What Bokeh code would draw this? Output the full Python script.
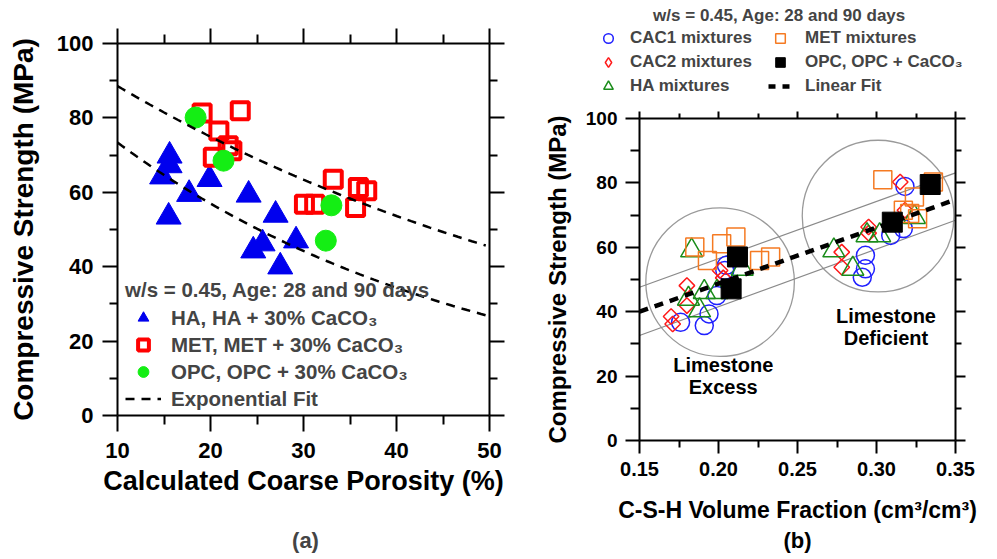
import numpy as np
from bokeh.plotting import figure
from bokeh.layouts import row, column
from bokeh.models import (Range1d, FixedTicker, LinearAxis, Legend, LegendItem,
                          Label, Title, PrintfTickFormatter, ColumnDataSource)
from bokeh.embed import file_html
from bokeh.resources import INLINE
from bokeh.core.properties import value

FONT = "Liberation Sans"

# ---------------- Panel (a) data ----------------
a_xticks = [10, 20, 30, 40, 50]
a_xminor = [15, 25, 35, 45]
a_yticks = [0, 20, 40, 60, 80, 100]
a_yminor = [10, 30, 50, 70, 90]

ha_por = [15.6, 15.6, 14.8, 15.5, 17.7, 19.9, 24.1, 27.0, 24.6, 25.6, 27.5, 29.2]
ha_fc = [69.8, 67.2, 64.2, 53.4, 59.5, 63.5, 59.3, 53.9, 44.3, 46.2, 40.0, 47.0]

met_por = [19.1, 23.2, 20.9, 21.9, 20.3, 22.3, 30.1, 31.2, 33.2, 35.6, 35.9, 36.8]
met_fc = [81.3, 81.9, 76.5, 72.5, 69.4, 71.2, 56.8, 56.8, 63.5, 55.9, 61.3, 60.4]

opc_por = [18.4, 21.4, 33.0, 32.4]
opc_fc = [80.1, 68.5, 56.5, 47.0]

# exponential fits  fc = A * exp(B * porosity)
exp_upper_A, exp_upper_B = 104.7, -0.01672
exp_lower_A, exp_lower_B = 94.5, -0.0253
fit_por_start, fit_por_end = 10.0, 49.6

# ---------------- Panel (b) data ----------------
b_xticks = [0.15, 0.20, 0.25, 0.30, 0.35]
b_xminor = [0.175, 0.225, 0.275, 0.325]
b_yticks = [0, 20, 40, 60, 80, 100]
b_yminor = [10, 30, 50, 70, 90]

cac1_csh = [0.176, 0.191, 0.194, 0.199, 0.204, 0.205, 0.291, 0.293, 0.293, 0.309, 0.317, 0.318]
cac1_fc = [36.7, 35.7, 39.3, 45.0, 52.8, 54.4, 50.7, 53.3, 57.5, 63.7, 65.8, 78.9]

cac2_csh = [0.170, 0.171, 0.180, 0.180, 0.201, 0.203, 0.278, 0.278, 0.295, 0.295, 0.315, 0.318]
cac2_fc = [38.5, 36.2, 48.1, 41.9, 52.8, 50.5, 58.5, 53.8, 66.3, 64.4, 80.3, 71.5]

ha_csh = [0.183, 0.181, 0.191, 0.188, 0.199, 0.215, 0.273, 0.285, 0.294, 0.302, 0.324]
ha_fc_b = [59.0, 44.0, 46.1, 40.4, 46.1, 53.3, 59.0, 53.3, 63.7, 63.7, 69.4]

met_csh = [0.185, 0.193, 0.202, 0.211, 0.226, 0.233, 0.304, 0.324, 0.317, 0.321, 0.326, 0.336]
met_fc_b = [60.1, 55.9, 61.1, 63.2, 55.9, 57.0, 81.0, 75.6, 71.5, 70.5, 68.9, 80.3]

opc_csh = [0.212, 0.208, 0.310, 0.334]
opc_fc_b = [57.0, 47.1, 67.8, 79.5]

lin_fit_csh = [0.15, 0.35]
lin_fit_fc = [40.0, 74.8]
band_upper_fc = [47.6, 83.1]
band_lower_fc = [32.6, 68.4]

region_csh = [0.201, 0.301]
region_fc = [49.2, 69.7]
region_radius = [0.047, 0.048]

ann_text = ["Limestone", "Excess", "Limestone", "Deficient"]
ann_csh = [0.203, 0.203, 0.306, 0.306]
ann_fc = [23.6, 16.7, 38.8, 31.7]

# styles
BLUE_A, RED_A, GREEN_A = "#0000ee", "#ff0000", "#14ee14"
BLUE_B, RED_B, GREEN_B, ORANGE_B = "#2020ff", "#ff1a1a", "#1a8c1a", "#f57a22"
GRAY = "#9a9a9a"


def style_axis(ax, ticker, label_px, major_out, minor_out, show=True):
    ax.ticker = ticker
    ax.axis_line_width = 2
    ax.axis_line_color = "black"
    ax.major_tick_line_width = 2
    ax.minor_tick_line_width = 2
    ax.major_tick_in = 0
    ax.minor_tick_in = 0
    ax.major_tick_out = major_out
    ax.minor_tick_out = minor_out
    ax.major_label_text_font = FONT
    ax.major_label_text_font_style = "bold"
    ax.axis_label_text_font = FONT
    ax.axis_label_text_font_style = "bold"
    ax.axis_label_text_color = "black"
    if show:
        ax.major_label_text_font_size = f"{label_px}px"
        ax.major_label_text_color = "black"
    else:
        ax.major_label_text_font_size = "1px"
        ax.major_label_text_color = None
        ax.major_label_standoff = 0


def blank_fig(w, h):
    f = figure(width=w, height=h, x_range=Range1d(0, 1), y_range=Range1d(0, 1),
               x_axis_type=None, y_axis_type=None, output_backend="svg",
               toolbar_location=None, min_border_left=0, min_border_right=0,
               min_border_top=0, min_border_bottom=0)
    f.outline_line_color = None
    return f


# ================= Panel (a) =================
pa = figure(width=540, height=510, x_range=Range1d(10, 50), y_range=Range1d(0, 100),
            output_backend="svg", toolbar_location=None,
            min_border_left=117, min_border_right=51, min_border_top=43, min_border_bottom=95)
pa.outline_line_color = None
pa.xgrid.visible = False
pa.ygrid.visible = False

style_axis(pa.xaxis[0], FixedTicker(ticks=a_xticks, minor_ticks=a_xminor), 22, 16, 9)
style_axis(pa.yaxis[0], FixedTicker(ticks=a_yticks, minor_ticks=a_yminor), 22, 15, 8)
pa.xaxis[0].axis_label = "Calculated Coarse Porosity (%)"
pa.xaxis[0].axis_label_text_font_size = "27px"
pa.xaxis[0].major_label_standoff = 11
pa.xaxis[0].axis_label_standoff = 5
pa.yaxis[0].axis_label = "Compressive Strength (MPa)"
pa.yaxis[0].axis_label_text_font_size = "28px"
pa.yaxis[0].major_label_standoff = 9
pa.yaxis[0].axis_label_standoff = 15

ta = LinearAxis()
style_axis(ta, FixedTicker(ticks=a_xticks, minor_ticks=a_xminor), 0, 15, 9, show=False)
pa.add_layout(ta, "above")
ra = LinearAxis()
style_axis(ra, FixedTicker(ticks=a_yticks, minor_ticks=a_yminor), 0, 15, 8, show=False)
pa.add_layout(ra, "right")

r_ha = pa.scatter(ha_por, ha_fc, marker="triangle", size=25,
                  fill_color=BLUE_A, line_color=BLUE_A)
r_met = pa.scatter(met_por, met_fc, marker="square", size=17,
                   fill_color=None, line_color=RED_A, line_width=4)
r_opc = pa.scatter(opc_por, opc_fc, marker="circle", size=21,
                   fill_color=GREEN_A, line_color=GREEN_A)

fit_x = np.linspace(fit_por_start, fit_por_end, 80)
r_fit1 = pa.line(fit_x, exp_upper_A * np.exp(exp_upper_B * fit_x), line_color="black",
                 line_width=2.5, line_dash="9 7")
r_fit2 = pa.line(fit_x, exp_lower_A * np.exp(exp_lower_B * fit_x), line_color="black",
                 line_width=2.5, line_dash="9 7")

leg_a = Legend(items=[
    LegendItem(label="HA, HA + 30% CaCO\u2083", renderers=[r_ha]),
    LegendItem(label="MET, MET + 30% CaCO\u2083", renderers=[r_met]),
    LegendItem(label="OPC, OPC + 30% CaCO\u2083", renderers=[r_opc]),
    LegendItem(label="Exponential Fit", renderers=[r_fit1]),
], location=(8, 3), title="w/s = 0.45, Age: 28 and 90 days")
leg_a.title_text_font = FONT
leg_a.title_text_font_style = "bold"
leg_a.title_text_font_size = "20.5px"
leg_a.title_standoff = 2
leg_a.label_text_font = FONT
leg_a.label_text_font_style = "bold"
leg_a.label_text_font_size = "20.5px"
leg_a.glyph_width = 36
leg_a.glyph_height = 27
leg_a.label_height = 20
leg_a.spacing = 0
leg_a.label_standoff = 10
leg_a.padding = 0
leg_a.margin = 0
leg_a.border_line_color = None
leg_a.background_fill_alpha = 0
pa.add_layout(leg_a, "center")

# caption (a) in a footer strip below panel (a)
fa = blank_fig(540, 45)
fa.add_layout(Label(x=305, y=15, x_units="screen", y_units="screen", text="(a)",
                    text_font=FONT, text_font_style="bold", text_font_size="22px",
                    text_align="center", text_baseline="middle"))

# ================= Panel (b) header (legend) =================
hb = blank_fig(455, 100)

nan = [float("nan")]
k_cac1 = hb.scatter(nan, nan, marker="circle", fill_color=None, line_color=BLUE_B, line_width=1.5)
k_cac2 = hb.scatter(nan, nan, marker="diamond", fill_color=None, line_color=RED_B, line_width=1.5)
k_ha = hb.scatter(nan, nan, marker="triangle", fill_color=None, line_color=GREEN_B, line_width=1.5)
k_met = hb.scatter(nan, nan, marker="square", fill_color=None, line_color=ORANGE_B, line_width=1.5)
k_opc = hb.scatter(nan, nan, marker="square", fill_color="black", line_color="black")
k_lin = hb.line(nan, nan, line_color="black", line_width=4.5, line_dash="7 7")


def style_leg(leg, standoff):
    leg.label_text_font = FONT
    leg.label_text_font_style = "bold"
    leg.label_text_font_size = "17px"
    leg.glyph_width = 24
    leg.glyph_height = 24
    leg.label_height = 18
    leg.spacing = 0
    leg.label_standoff = standoff
    leg.padding = 0
    leg.margin = 0
    leg.border_line_color = None
    leg.background_fill_alpha = 0


leg_b1 = Legend(items=[
    LegendItem(label="CAC1 mixtures", renderers=[k_cac1]),
    LegendItem(label="CAC2 mixtures", renderers=[k_cac2]),
    LegendItem(label="HA mixtures", renderers=[k_ha]),
], location=(56, 2))
style_leg(leg_b1, 10)
leg_b2 = Legend(items=[
    LegendItem(label="MET mixtures", renderers=[k_met]),
    LegendItem(label="OPC, OPC + CaCO\u2083", renderers=[k_opc]),
    LegendItem(label="Linear Fit", renderers=[k_lin]),
], location=(228, 2))
style_leg(leg_b2, 13)
hb.add_layout(leg_b1, "center")
hb.add_layout(leg_b2, "center")
hb.add_layout(Label(x=239, y=85, x_units="screen", y_units="screen",
                    text="w/s = 0.45, Age: 28 and 90 days",
                    text_font=FONT, text_font_style="bold", text_font_size="17px",
                    text_align="center", text_baseline="middle"))

# ================= Panel (b) =================
pb = figure(width=455, height=458, x_range=Range1d(0.15, 0.35), y_range=Range1d(0, 100),
            output_backend="svg", toolbar_location=None,
            min_border_left=95, min_border_right=40, min_border_top=18, min_border_bottom=118)
pb.outline_line_color = None
pb.xgrid.visible = False
pb.ygrid.visible = False

style_axis(pb.xaxis[0], FixedTicker(ticks=b_xticks, minor_ticks=b_xminor), 20, 13, 7)
style_axis(pb.yaxis[0], FixedTicker(ticks=b_yticks, minor_ticks=b_yminor), 19, 14, 9)
pb.xaxis[0].formatter = PrintfTickFormatter(format="%.2f")
pb.xaxis[0].axis_label = "C-S-H Volume Fraction (cm\u00b3/cm\u00b3)"
pb.xaxis[0].axis_label_text_font_size = "23px"
pb.xaxis[0].major_label_standoff = 8
pb.xaxis[0].axis_label_standoff = 18
pb.yaxis[0].axis_label = "Compressive Strength (MPa)"
pb.yaxis[0].axis_label_text_font_size = "24px"
pb.yaxis[0].major_label_standoff = 8
pb.yaxis[0].axis_label_standoff = 12

tb = LinearAxis()
style_axis(tb, FixedTicker(ticks=b_xticks, minor_ticks=b_xminor), 0, 7, 5, show=False)
pb.add_layout(tb, "above")
rb = LinearAxis()
style_axis(rb, FixedTicker(ticks=b_yticks, minor_ticks=b_yminor), 0, 10, 6, show=False)
pb.add_layout(rb, "right")

pb.circle(region_csh, region_fc, radius=region_radius, fill_color=None,
          line_color=GRAY, line_width=1.3)
pb.line(lin_fit_csh, band_upper_fc, line_color="#8a8a8a", line_width=1.2)
pb.line(lin_fit_csh, band_lower_fc, line_color="#8a8a8a", line_width=1.2)

pb.scatter(cac1_csh, cac1_fc, marker="circle", size=18, fill_color=None,
           line_color=BLUE_B, line_width=1.5)
pb.scatter(cac2_csh, cac2_fc, marker="square", angle=np.pi / 4, size=11,
           fill_color=None, line_color=RED_B, line_width=1.5)
pb.scatter(ha_csh, ha_fc_b, marker="triangle", size=22, fill_color=None,
           line_color=GREEN_B, line_width=1.5)
pb.scatter(met_csh, met_fc_b, marker="square", size=18, fill_color=None,
           line_color=ORANGE_B, line_width=1.5)
pb.line(lin_fit_csh, lin_fit_fc, line_color="black", line_width=4.5, line_dash="9 7")
pb.scatter(opc_csh, opc_fc_b, marker="square", size=20, fill_color="black",
           line_color="black")

ann_src = ColumnDataSource(dict(x=ann_csh, y=ann_fc, t=ann_text))
pb.text(x="x", y="y", text="t", source=ann_src, text_font=value(FONT),
        text_font_style="bold", text_font_size="20px", text_align="center",
        text_baseline="middle", text_color="black")

pb.add_layout(Title(text="(b)", align="center", text_font=FONT, text_font_style="bold",
                    text_font_size="22px", text_color="black", standoff=0), "below")

layout = row(column(row(pa), row(fa)), column(row(hb), row(pb)))
open("out.html", "w").write(file_html(layout, INLINE))
